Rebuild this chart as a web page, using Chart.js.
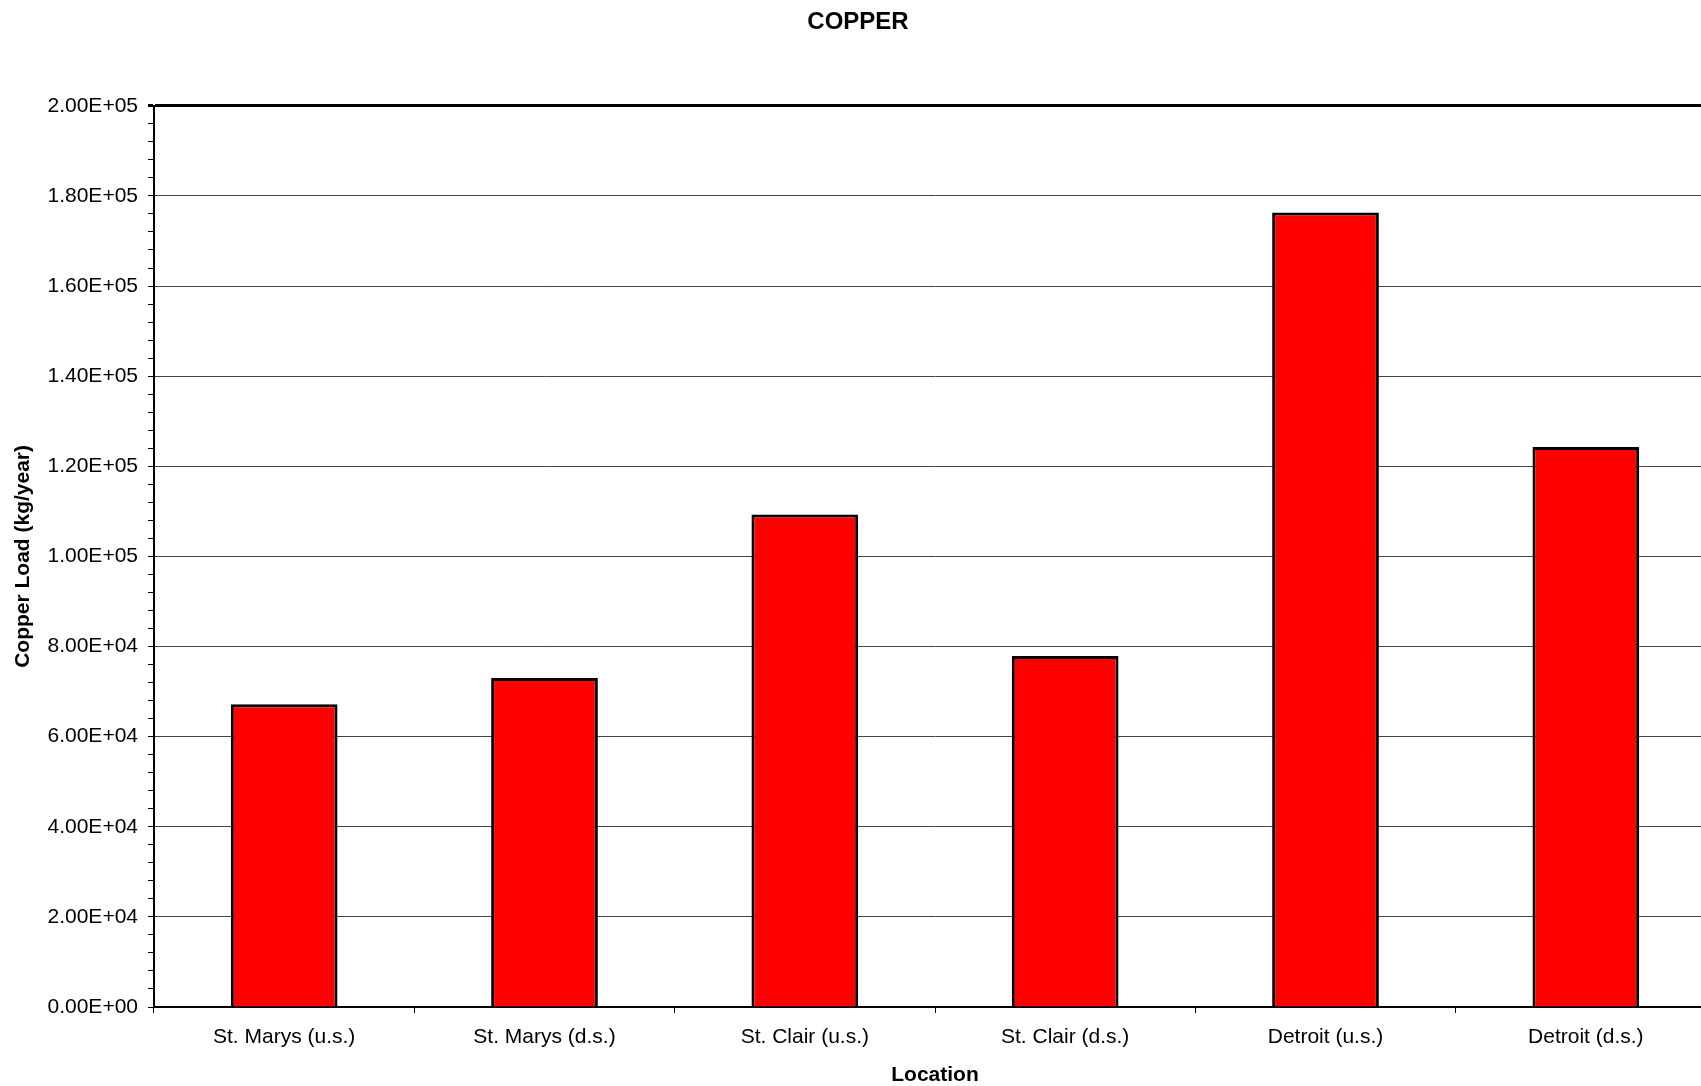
<!DOCTYPE html>
<html>
<head>
<meta charset="utf-8">
<script src="https://cdn.jsdelivr.net/npm/chart.js@4/dist/chart.umd.min.js"></script>
<style>
  html, body { margin: 0; padding: 0; overflow: hidden; background: #fff; }
  #wrap { width: 1716px; height: 1086px; position: relative; }
</style>
</head>
<body>
<div id="wrap"><canvas id="copperChart"></canvas></div>
<script>
const locations = [
  "St. Marys (u.s.)",
  "St. Marys (d.s.)",
  "St. Clair (u.s.)",
  "St. Clair (d.s.)",
  "Detroit (u.s.)",
  "Detroit (d.s.)",
];
const copperLoad = [67200, 73000, 109300, 77900, 176300, 124300];
const yMax = 200000;
const yMajorStep = 20000;
const yMinorStep = 4000;

const fontFamily = "'Liberation Sans', Arial, sans-serif";

// etiquetas tipo 2.00E+05
function sciLabel(v) {
  if (v === 0) return "0.00E+00";
  const exp = Math.floor(Math.log10(v));
  const mant = (v / Math.pow(10, exp)).toFixed(2);
  return mant + "E+" + String(exp).padStart(2, "0");
}

const ctx = document.getElementById("copperChart").getContext("2d");

new Chart(ctx, {
  type: "bar",
  data: {
    labels: locations,
    datasets: [
      {
        label: "Copper",
        data: copperLoad,
        backgroundColor: "#ff0000",
        borderColor: "#000000",
        borderWidth: 3,
        barPercentage: 0.41,
        categoryPercentage: 1.0,
      },
    ],
  },
  options: {
    responsive: true,
    maintainAspectRatio: false,
    animation: false,
    layout: { padding: 0 },
    plugins: {
      legend: { display: false },
      tooltip: { enabled: false },
      title: {
        display: true,
        text: "COPPER",
        color: "#000",
        font: { family: fontFamily, size: 24, weight: "bold" },
        padding: { top: 8, bottom: 69 },
      },
    },
    scales: {
      x: {
        offset: true,
        grid: {
          offset: true,
          drawOnChartArea: false,
          tickLength: 6,
          tickColor: "#000",
        },
        border: { color: "#000", width: 2 },
        ticks: {
          color: "#000",
          padding: 12,
          maxRotation: 0,
          font: { family: fontFamily, size: 21 },
        },
        title: {
          display: true,
          text: "Location",
          color: "#000",
          font: { family: fontFamily, size: 21, weight: "bold", lineHeight: 1.0 },
          padding: { top: 0, bottom: 0 },
        },
        afterFit: function (scale) {
          scale.height = 79;
        },
      },
      y: {
        min: 0,
        max: yMax,
        grid: {
          tickLength: 6,
          tickColor: "#000",
          color: function (c) {
            if (!c.tick) return "transparent";
            if (c.tick.value === yMax) return "#000";
            return c.tick.value % yMajorStep === 0 ? "#444" : "transparent";
          },
          lineWidth: function (c) {
            if (c.tick && c.tick.value === yMax) return 3;
            return 1;
          },
        },
        border: { color: "#000", width: 2 },
        ticks: {
          stepSize: yMinorStep,
          autoSkip: false,
          color: "#000",
          padding: 10,
          font: { family: fontFamily, size: 21 },
          callback: function (value) {
            return value % yMajorStep === 0 ? sciLabel(value) : "";
          },
        },
        title: {
          display: true,
          text: "Copper Load (kg/year)",
          color: "#000",
          font: { family: fontFamily, size: 21, weight: "bold" },
          padding: { top: 11, bottom: 0 },
        },
        afterFit: function (scale) {
          scale.width = 154;
        },
      },
    },
  },
});
</script>
</body>
</html>
